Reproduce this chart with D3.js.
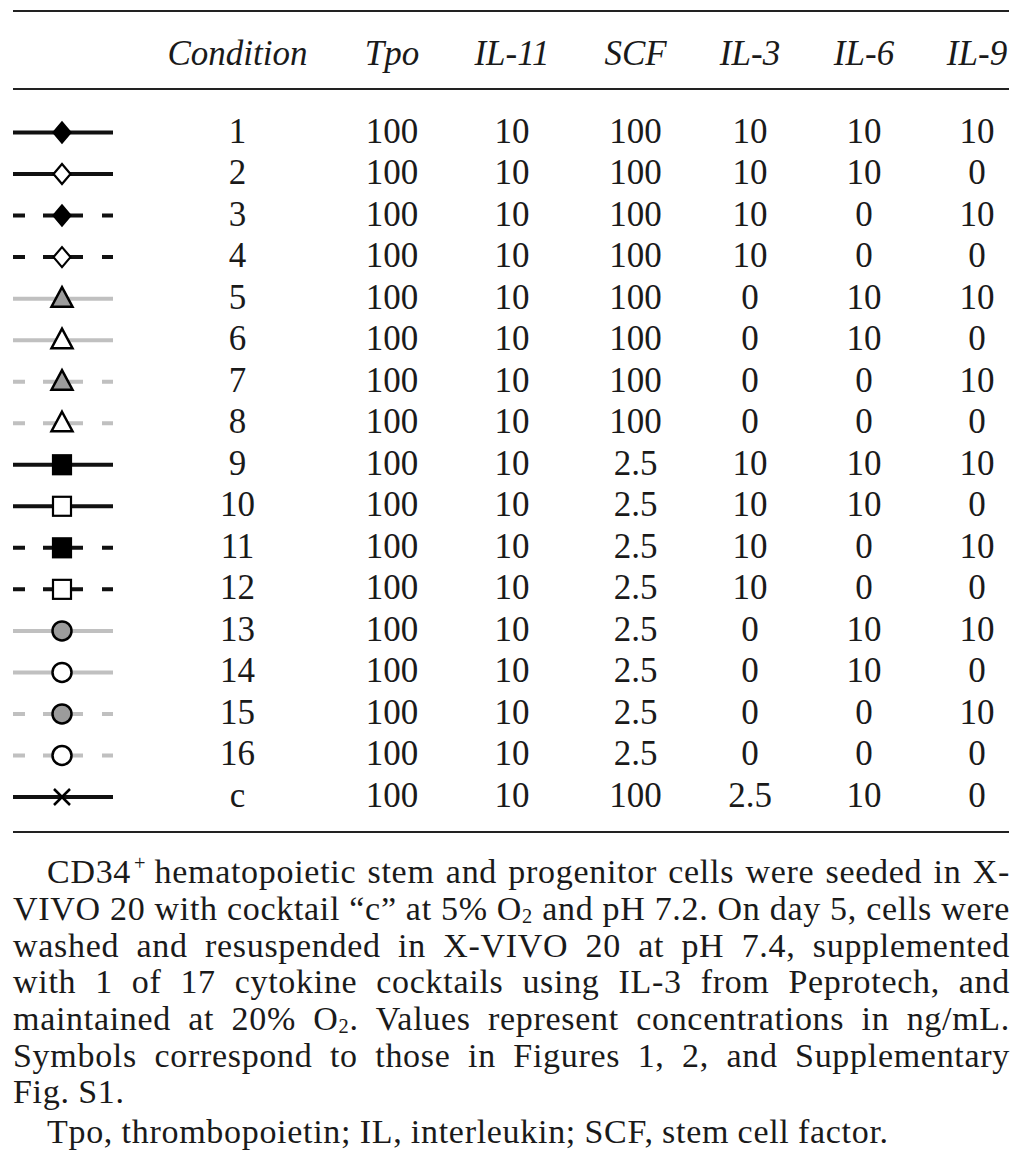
<!DOCTYPE html>
<html>
<head>
<meta charset="utf-8">
<script src="https://cdn.jsdelivr.net/npm/d3@7"></script>
<style>
  html, body { margin: 0; padding: 0; background: #fff; }
  svg { display: block; }
</style>
</head>
<body>
<svg id="chart" width="1024" height="1159"></svg>
<script>
// ---------------- DATA ----------------
const columns = ["Condition", "Tpo", "IL-11", "SCF", "IL-3", "IL-6", "IL-9"];
const conditions = ["1","2","3","4","5","6","7","8","9","10","11","12","13","14","15","16","c"];
const tpo  = [100,100,100,100,100,100,100,100,100,100,100,100,100,100,100,100,100];
const il11 = [10,10,10,10,10,10,10,10,10,10,10,10,10,10,10,10,10];
const scf  = [100,100,100,100,100,100,100,100,2.5,2.5,2.5,2.5,2.5,2.5,2.5,2.5,100];
const il3  = [10,10,10,10,0,0,0,0,10,10,10,10,0,0,0,0,2.5];
const il6  = [10,10,0,0,10,10,0,0,10,10,0,0,10,10,0,0,10];
const il9  = [10,0,10,0,10,0,10,0,10,0,10,0,10,0,10,0,0];
// legend symbol encodings (categories)
const markerShape = ["diamond","diamond","diamond","diamond","triangle","triangle","triangle","triangle",
                     "square","square","square","square","circle","circle","circle","circle","cross"];
const markerFill  = ["filled","open","filled","open","filled","open","filled","open",
                     "filled","open","filled","open","filled","open","filled","open","none"];
const lineType    = ["solid","solid","dashed","dashed","solid","solid","dashed","dashed",
                     "solid","solid","dashed","dashed","solid","solid","dashed","dashed","solid"];
const lineTone    = ["black","black","black","black","gray","gray","gray","gray",
                     "black","black","black","black","gray","gray","gray","gray","black"];
const footnoteLines = [
  "CD34^{+} hematopoietic stem and progenitor cells were seeded in X-",
  "VIVO 20 with cocktail “c” at 5% O_{2} and pH 7.2. On day 5, cells were",
  "washed and resuspended in X-VIVO 20 at pH 7.4, supplemented",
  "with 1 of 17 cytokine cocktails using IL-3 from Peprotech, and",
  "maintained at 20% O_{2}. Values represent concentrations in ng/mL.",
  "Symbols correspond to those in Figures 1, 2, and Supplementary",
  "Fig. S1.",
  "Tpo, thrombopoietin; IL, interleukin; SCF, stem cell factor."
];

// ---------------- LAYOUT ----------------
const svg = d3.select("#chart");
const FONT = "'Liberation Serif', 'Times New Roman', serif";
const INK = "#1a1a1a";

const tableValues = [conditions, tpo, il11, scf, il3, il6, il9];

const x = d3.scaleOrdinal().domain(columns).range([237.5, 392, 512, 635.5, 750, 864, 977]);
const y = d3.scalePoint().domain(conditions).range([132.5, 797]);
const sx = d3.scaleLinear().domain([0, 1]).range([13, 113]);
const markerX = 62;

const lineColor = d3.scaleOrdinal().domain(["black","gray"]).range(["#111111","#c0c0c0"]);
const fillColor = d3.scaleOrdinal().domain(["black","gray"]).range(["#000000","#9c9c9c"]);
const dash = d3.scaleOrdinal().domain(["solid","dashed"]).range([null, "12 18 40 19 11"]);

// rules
const rules = [11, 89, 832];
svg.selectAll("line.rule").data(rules).join("line")
  .attr("class","rule")
  .attr("x1", 13).attr("x2", 1009)
  .attr("y1", d => d).attr("y2", d => d)
  .attr("stroke", "#222").attr("stroke-width", 2);

// header
svg.selectAll("text.head").data(columns).join("text")
  .attr("class","head")
  .attr("x", d => x(d)).attr("y", 65)
  .attr("text-anchor","middle")
  .attr("font-family", FONT).attr("font-style","italic")
  .attr("font-size", 35).attr("fill", INK)
  .text(d => d);

// body cells
const cells = [];
columns.forEach((c, ci) => {
  conditions.forEach((cond, ri) => {
    cells.push({col: c, row: cond, v: tableValues[ci][ri]});
  });
});
svg.selectAll("text.cell").data(cells).join("text")
  .attr("class","cell")
  .attr("x", d => x(d.col)).attr("y", d => y(d.row) + 10)
  .attr("text-anchor","middle")
  .attr("font-family", FONT).attr("font-size", 35).attr("fill", INK)
  .text(d => String(d.v));

// legend symbols
const sym = svg.append("g");
conditions.forEach((cond, i) => {
  const cy = y(cond);
  const tone = lineTone[i];
  sym.append("line")
    .attr("x1", sx(0)).attr("x2", sx(1)).attr("y1", cy).attr("y2", cy)
    .attr("stroke", lineColor(tone)).attr("stroke-width", 4)
    .attr("stroke-dasharray", dash(lineType[i]));
  const fill = markerFill[i] === "filled" ? fillColor(tone) : "#fff";
  const shape = markerShape[i];
  const p = d3.path();
  if (shape === "diamond") {
    p.moveTo(markerX, cy - 10); p.lineTo(markerX + 8.5, cy); p.lineTo(markerX, cy + 10); p.lineTo(markerX - 8.5, cy); p.closePath();
    sym.append("path").attr("d", p.toString()).attr("fill", fill).attr("stroke","#000").attr("stroke-width", 2.2).attr("stroke-linejoin","miter");
  } else if (shape === "triangle") {
    p.moveTo(markerX, cy - 11.5); p.lineTo(markerX + 10.5, cy + 8); p.lineTo(markerX - 10.5, cy + 8); p.closePath();
    sym.append("path").attr("d", p.toString()).attr("fill", fill).attr("stroke","#000").attr("stroke-width", 2.5);
  } else if (shape === "square") {
    sym.append("rect").attr("x", markerX - 9).attr("y", cy - 9.5).attr("width", 18).attr("height", 19)
      .attr("fill", fill).attr("stroke","#000").attr("stroke-width", 2.2);
  } else if (shape === "circle") {
    sym.append("circle").attr("cx", markerX).attr("cy", cy).attr("r", 9.5)
      .attr("fill", fill).attr("stroke","#000").attr("stroke-width", 2.5);
  } else if (shape === "cross") {
    p.moveTo(markerX - 8, cy - 8); p.lineTo(markerX + 8, cy + 8);
    p.moveTo(markerX + 8, cy - 8); p.lineTo(markerX - 8, cy + 8);
    sym.append("path").attr("d", p.toString()).attr("fill","none").attr("stroke","#000").attr("stroke-width", 2.5);
  }
});

// footnote with justified lines
const FN_SIZE = 34;
const foot = svg.append("g").attr("font-family", FONT).attr("font-size", FN_SIZE).attr("fill", INK);
const baselines = [883, 920, 956.5, 993, 1030, 1066.5, 1103, 1143];
const starts = [47, 13, 13, 13, 13, 13, 13, 47];
const justified = [true, true, true, true, true, true, false, false];
const rightEdge = 1010;
const MAX_LS = 0.7, MIN_GAP = 7;

function makeWord(g, word, by) {
  const t = g.append("text").attr("y", by);
  const parts = word.split(/(\^\{[^}]*\}|_\{[^}]*\})/).filter(s => s.length);
  let shift = 0, nChars = 0;
  parts.forEach(part => {
    let target = 0, txt = part, small = false;
    if (part.startsWith("^{")) { target = -13; txt = part.slice(2, -1); small = true; }
    else if (part.startsWith("_{")) { target = 3; txt = part.slice(2, -1); small = true; }
    const ts = t.append("tspan").attr("dy", target - shift).text(txt);
    if (small) ts.attr("font-size", FN_SIZE * 0.6);
    if (small && target < 0) ts.attr("dx", 3);
    shift = target;
    nChars += txt.length;
  });
  return {t, nChars};
}

footnoteLines.forEach((line, li) => {
  const words = line.split(" ");
  const by = baselines[li];
  const items = words.map(w => makeWord(foot, w, by));
  const widths0 = items.map(it => it.t.node().getComputedTextLength());
  const chars = d3.sum(items, it => it.nChars);
  const total0 = d3.sum(widths0);
  const avail = rightEdge - starts[li];
  let ls = MAX_LS;
  if (justified[li] && words.length > 1) {
    ls = Math.max(0, Math.min(MAX_LS, (avail - total0 - MIN_GAP * (words.length - 1)) / chars));
  }
  items.forEach(it => it.t.attr("letter-spacing", ls));
  const widths = items.map((it, k) => widths0[k] + ls * it.nChars);
  const total = d3.sum(widths);
  let gap = FN_SIZE * 0.25;
  if (justified[li] && words.length > 1) gap = (avail - total) / (words.length - 1);
  let cx = starts[li];
  items.forEach((it, k) => {
    it.t.attr("x", cx);
    cx += widths[k] + gap;
  });
});
</script>
</body>
</html>
